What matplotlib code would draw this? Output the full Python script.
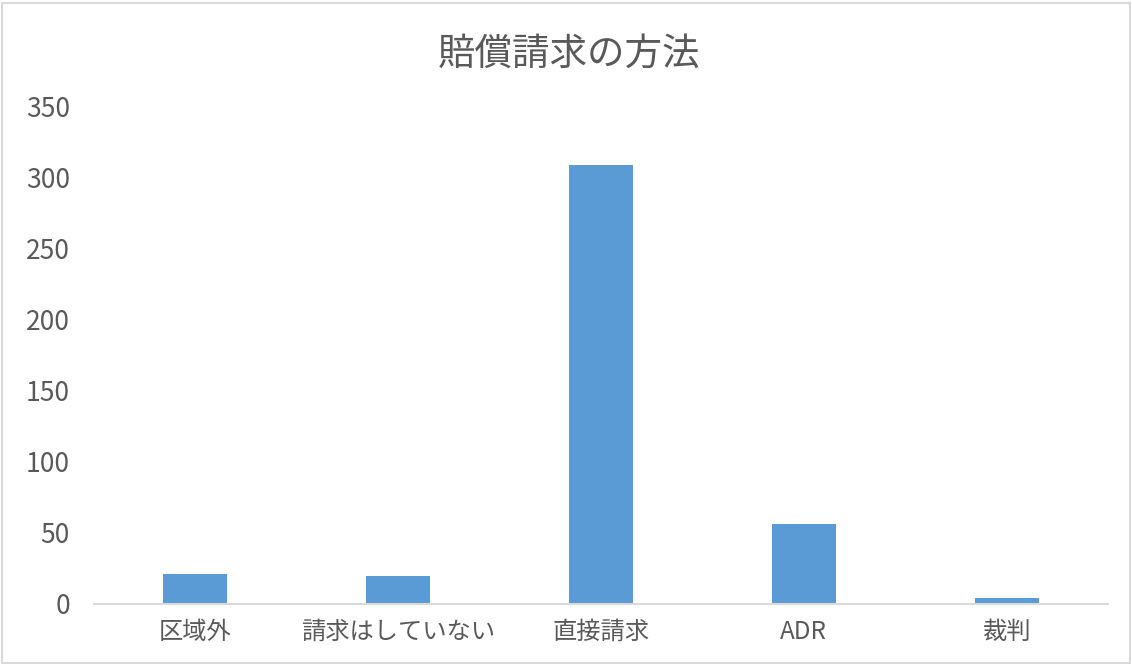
import matplotlib
matplotlib.use("Agg")
import matplotlib.pyplot as plt
from matplotlib.patches import Rectangle

plt.rcParams['font.family'] = ['Noto Sans CJK JP', 'DejaVu Sans']

categories = ["区域外", "請求はしていない", "直接請求", "ADR", "裁判"]
counts = [21, 20, 309, 56, 4]
yticks = [0, 50, 100, 150, 200, 250, 300, 350]

text_color = "#595959"
bar_color = "#5B9BD5"

fig = plt.figure(figsize=(11.32, 6.64), dpi=100)
ax = fig.add_axes([0.0826, 0.0904, 0.8964, 0.7485])

ax.bar(range(len(categories)), counts, width=0.315, color=bar_color)
ax.set_xlim(-0.5, len(categories) - 0.5)
ax.set_ylim(0, 350)
ax.set_yticks(yticks)
ax.set_xticks(range(len(categories)))
ax.set_xticklabels(categories)

for s in ["top", "right", "left"]:
    ax.spines[s].set_visible(False)
ax.spines["bottom"].set_color("#D9D9D9")
ax.spines["bottom"].set_linewidth(1.5)
ax.tick_params(axis="both", length=0, colors=text_color)
ax.tick_params(axis="x", labelsize=17.5, pad=11)
ax.tick_params(axis="y", labelsize=19, pad=17)

fig.suptitle("賠償請求の方法", x=0.503, y=0.948, fontsize=27, color=text_color)

# chart border
fig.patches.append(Rectangle((0.002, 0.002), 0.996, 0.994, transform=fig.transFigure,
                             fill=False, edgecolor="#D9D9D9", linewidth=1.5))

fig.savefig("out.png", dpi=100, facecolor="white")
